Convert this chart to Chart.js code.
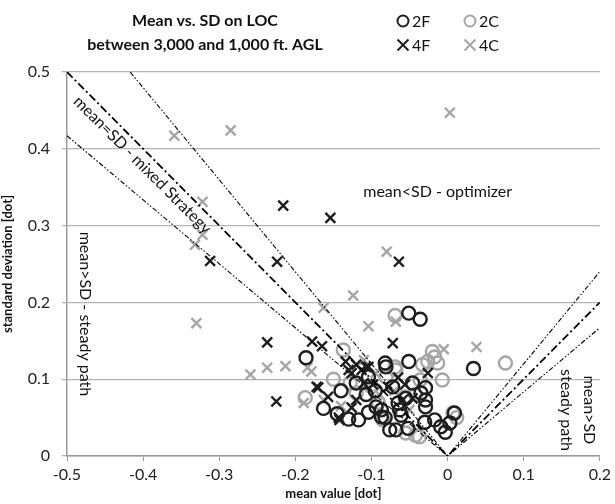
<!DOCTYPE html>
<html>
<head>
<meta charset="utf-8">
<script src="https://cdn.jsdelivr.net/npm/chart.js@4.4.1/dist/chart.umd.min.js"></script>
<style>
    html, body { margin: 0; padding: 0; background: #fff; }
    #wrap { width: 615px; height: 504px; position: relative; }
</style>
</head>
<body>
<div id="wrap"><canvas id="myChart" width="615" height="504"></canvas></div>
<script>
// values: [mean, sd]
const series2F = [
    [-0.186, 0.128], [-0.051, 0.186], [-0.036, 0.178], [-0.051, 0.123], [0.034, 0.114],
    [-0.163, 0.062], [-0.145, 0.055], [-0.130, 0.048], [-0.117, 0.047], [-0.104, 0.057],
    [-0.107, 0.080], [-0.082, 0.121], [-0.087, 0.051], [-0.104, 0.103], [-0.094, 0.064],
    [-0.082, 0.050], [-0.065, 0.069], [-0.061, 0.053], [-0.076, 0.034], [-0.029, 0.073],
    [-0.029, 0.064], [-0.030, 0.044], [-0.017, 0.047], [-0.009, 0.038], [-0.003, 0.031],
    [0.009, 0.056], [0.003, 0.043], [-0.081, 0.116], [-0.029, 0.089], [-0.035, 0.082],
    [-0.068, 0.034], [-0.052, 0.036], [-0.063, 0.060], [-0.087, 0.060], [-0.120, 0.095],
    [-0.072, 0.090], [-0.046, 0.095], [-0.055, 0.075], [-0.140, 0.085], [-0.095, 0.085]
];
const series2C = [
    [-0.187, 0.076], [-0.017, 0.129], [-0.013, 0.121], [-0.007, 0.099], [0.076, 0.121],
    [-0.020, 0.136], [-0.026, 0.123], [-0.033, 0.119], [-0.069, 0.116], [-0.036, 0.099],
    [-0.137, 0.138], [-0.128, 0.095], [-0.120, 0.082], [-0.081, 0.103], [-0.068, 0.112],
    [-0.069, 0.183], [-0.085, 0.047], [-0.056, 0.077], [-0.042, 0.080], [-0.055, 0.030],
    [-0.037, 0.025], [0.007, 0.056], [-0.042, 0.027], [0.012, 0.050], [-0.091, 0.070],
    [-0.100, 0.090], [-0.150, 0.100]
];
const series4F = [
    [-0.216, 0.326], [-0.154, 0.310], [-0.312, 0.254], [-0.224, 0.253], [-0.064, 0.253],
    [-0.237, 0.148], [-0.178, 0.149], [-0.225, 0.071], [-0.165, 0.143], [-0.172, 0.090],
    [-0.157, 0.077], [-0.143, 0.050], [-0.134, 0.123], [-0.126, 0.108], [-0.113, 0.112],
    [-0.120, 0.073], [-0.104, 0.116], [-0.098, 0.093], [-0.126, 0.063], [-0.072, 0.147],
    [-0.026, 0.108], [-0.065, 0.102], [-0.056, 0.093], [-0.078, 0.090], [-0.059, 0.073],
    [-0.046, 0.075], [-0.130, 0.112], [-0.120, 0.119], [-0.107, 0.116], [-0.170, 0.089],
    [-0.142, 0.047], [-0.110, 0.095]
];
const series4C = [
    [-0.359, 0.417], [-0.285, 0.424], [-0.322, 0.331], [-0.322, 0.288], [-0.332, 0.275],
    [-0.330, 0.173], [0.003, 0.447], [-0.080, 0.266], [-0.124, 0.209], [-0.163, 0.193],
    [-0.259, 0.106], [-0.237, 0.115], [-0.213, 0.117], [-0.184, 0.115], [-0.189, 0.069],
    [-0.005, 0.139], [0.038, 0.142], [-0.104, 0.169], [-0.068, 0.175], [-0.179, 0.110],
    [-0.163, 0.073], [-0.140, 0.065], [-0.090, 0.080], [-0.070, 0.085], [-0.050, 0.060],
    [-0.110, 0.125], [-0.095, 0.108]
];

// guide lines sd = k*|mean|
const guideUpper = [[-0.417, 0.5], [0, 0], [0.2, 0.24]];
const guideMiddle = [[-0.5, 0.5], [0, 0], [0.2, 0.2]];
const guideLower = [[-0.5, 0.417], [0, 0], [0.2, 0.167]];

const xTicks = [-0.5, -0.4, -0.3, -0.2, -0.1, 0, 0.1, 0.2];
const yTicks = [0, 0.1, 0.2, 0.3, 0.4, 0.5];

const titleLines = ["Mean vs. SD on LOC", "between 3,000 and 1,000 ft. AGL"];
const legendNames = ["2F", "2C", "4F", "4C"];

// text labels inside the plot: [text, mean, sd, rotation]
const notes = [
    ["mean=SD - mixed Strategy", -0.401, 0.379, Math.PI / 4],
    ["mean<SD - optimizer", -0.013, 0.344, 0],
    ["mean>SD - steady path", -0.476, 0.185, Math.PI / 2],
    ["steady path", 0.156, 0.06, Math.PI / 2],
    ["mean>SD", 0.186, 0.06, Math.PI / 2]
];

const BLACK = "#1e1e1e";
const GRAY = "#a6a6a6";
const FONT = "Lato, 'Open Sans', sans-serif";

const toPoints = (arr) => arr.map(([x, y]) => ({ x, y }));

function guide(data, width, dash) {
    return {
        data: toPoints(data),
        showLine: true,
        borderColor: "#000",
        borderWidth: width,
        borderDash: dash,
        pointRadius: 0,
        fill: false,
        tension: 0,
    };
}

function marks(data, color, style, radius) {
    return {
        data: toPoints(data),
        pointStyle: style,
        pointRadius: radius,
        pointBorderColor: color,
        pointBackgroundColor: "rgba(0,0,0,0)",
        pointBorderWidth: 2.4,
        showLine: false,
    };
}

const textPlugin = {
    id: "texts",
    afterDraw(chart) {
        const ctx = chart.ctx;
        const xs = chart.scales.x;
        const ys = chart.scales.y;
        ctx.save();
        ctx.fillStyle = "#111";

        // title
        ctx.font = "bold 16px " + FONT;
        ctx.textAlign = "center";
        ctx.textBaseline = "middle";
        ctx.fillText(titleLines[0], 205, 21);
        ctx.fillText(titleLines[1], 205, 45);

        // legend, 2 x 2
        const cols = [403, 470];
        const rows = [21, 45];
        ctx.font = "16px " + FONT;
        ctx.textAlign = "left";
        legendNames.forEach((name, i) => {
            const cx = cols[i % 2];
            const cy = rows[Math.floor(i / 2)];
            ctx.strokeStyle = i % 2 === 0 ? BLACK : GRAY;
            ctx.lineWidth = 2;
            ctx.beginPath();
            if (i < 2) {
                ctx.arc(cx, cy, 5.5, 0, Math.PI * 2);
            } else {
                ctx.moveTo(cx - 5.5, cy - 5.5); ctx.lineTo(cx + 5.5, cy + 5.5);
                ctx.moveTo(cx + 5.5, cy - 5.5); ctx.lineTo(cx - 5.5, cy + 5.5);
            }
            ctx.stroke();
            ctx.fillStyle = "#111";
            ctx.fillText(name, cx + 9, cy + 1);
        });

        // notes in the plot
        ctx.font = "16px " + FONT;
        ctx.textAlign = "center";
        notes.forEach(([text, mx, sy, rot]) => {
            ctx.save();
            ctx.translate(xs.getPixelForValue(mx), ys.getPixelForValue(sy));
            ctx.rotate(rot);
            ctx.fillText(text, 0, 0);
            ctx.restore();
        });
        ctx.restore();
    }
};

const ctx = document.getElementById("myChart").getContext("2d");
new Chart(ctx, {
    type: "scatter",
    data: {
        datasets: [
            guide(guideUpper, 1.1, [5, 2, 1.5, 2, 1.5, 2]),
            guide(guideMiddle, 1.8, [8, 3, 2, 3]),
            guide(guideLower, 1.1, [5, 2, 1.5, 2, 1.5, 2]),
            marks(series2F, BLACK, "circle", 6.5),
            marks(series4F, BLACK, "crossRot", 7),
            marks(series2C, GRAY, "circle", 6.5),
            marks(series4C, GRAY, "crossRot", 7),
        ],
    },
    options: {
        responsive: false,
        animation: false,
        layout: { padding: { top: 72, right: 12, left: 0, bottom: 0 } },
        plugins: {
            legend: { display: false },
            title: { display: false },
            tooltip: { enabled: false },
        },
        scales: {
            x: {
                type: "linear",
                min: -0.5,
                max: 0.2,
                afterBuildTicks: (scale) => { scale.ticks = xTicks.map((v) => ({ value: v })); },
                afterFit: (scale) => { scale.height = 48; },
                border: { display: true, color: "#9a9a9a", width: 1.5 },
                grid: { drawOnChartArea: false, drawTicks: true, tickLength: 5, color: "#9a9a9a" },
                ticks: {
                    color: "#222",
                    padding: 4,
                    font: { family: FONT, size: 16 },
                    callback: (v) => (v === 0 ? "0" : String(Math.round(v * 10) / 10)),
                },
                title: {
                    display: true,
                    text: "mean value [dot]",
                    color: "#111",
                    padding: { top: 0, bottom: 2 },
                    font: { family: FONT, size: 13, weight: "bold" },
                },
            },
            y: {
                type: "linear",
                min: 0,
                max: 0.5,
                afterBuildTicks: (scale) => { scale.ticks = yTicks.map((v) => ({ value: v })); },
                afterFit: (scale) => { scale.width = 67; },
                border: { display: true, color: "#9a9a9a", width: 1.5 },
                grid: { drawTicks: true, tickLength: 5, color: "#b4b4b4", lineWidth: 1.3 },
                ticks: {
                    color: "#222",
                    padding: 12,
                    font: { family: FONT, size: 16 },
                    callback: (v) => (v === 0 ? "0" : String(Math.round(v * 10) / 10)),
                },
                title: {
                    display: true,
                    text: "standard deviation [dot]",
                    color: "#111",
                    padding: { top: 0, bottom: 2 },
                    font: { family: FONT, size: 13, weight: "bold" },
                },
            },
        },
    },
    plugins: [textPlugin],
});
</script>
</body>
</html>
